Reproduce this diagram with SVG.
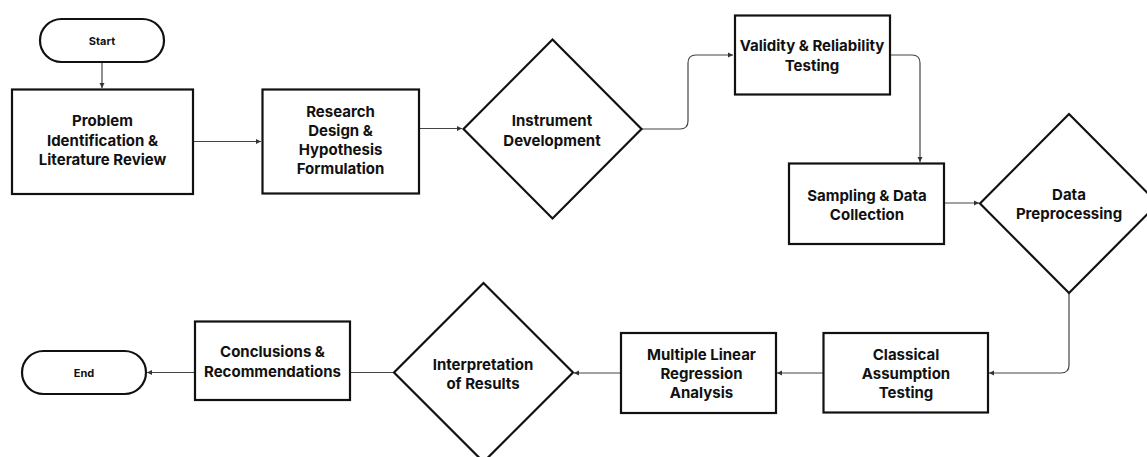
<svg xmlns="http://www.w3.org/2000/svg" width="1147" height="457" viewBox="0 0 1147 457">
<defs>
<marker id="ah" markerWidth="6" markerHeight="6" refX="5" refY="3" orient="auto" markerUnits="userSpaceOnUse">
<path d="M0,0.5 L5,3 L0,5.5 Z" fill="#333"/>
</marker>
</defs>
<style>
.n{fill:#fff;stroke:#111;stroke-width:2.2}
.t{font-family:Inter,"Noto Sans",sans-serif;font-weight:700;font-size:15px;fill:#111;text-anchor:middle}
.s{font-size:11px}
.c{fill:none;stroke:#444;stroke-width:1.2;marker-end:url(#ah)}
.c0{fill:none;stroke:#444;stroke-width:1.2}
</style>
<rect width="1147" height="457" fill="#fff"/>
<g id="connectors">
<path class="c" d="M102,62 V88"/>
<path class="c" d="M193,141.5 H261"/>
<path class="c" d="M419,128.5 H462"/>
<path class="c" d="M642,129 H680 Q688,129 688,121 V63 Q688,55 696,55 H733"/>
<path class="c" d="M890,55 H912 Q920,55 920,63 V162"/>
<path class="c" d="M944,203 H979"/>
<path class="c" d="M1069,293 V365 Q1069,373 1061,373 H989"/>
<path class="c" d="M823,373 H777"/>
<path class="c" d="M621,373 H574"/>
<path class="c0" d="M394,372.5 H350"/>
<path class="c" d="M195,372.5 H147"/>
</g>
<g id="start">
<rect class="n" x="40" y="19" width="124" height="43" rx="21.5"/>
<text class="t s" x="102" y="44.5">Start</text>
</g>
<g id="problem">
<rect class="n" x="12" y="89.5" width="181" height="104.5"/>
<text class="t" x="102.5" y="126">Problem</text>
<text class="t" x="102.5" y="145.5">Identification &amp;</text>
<text class="t" x="102.5" y="165">Literature Review</text>
</g>
<g id="research">
<rect class="n" x="262.5" y="89.5" width="156.5" height="104"/>
<text class="t" x="340.5" y="117">Research</text>
<text class="t" x="340.5" y="136">Design &amp;</text>
<text class="t" x="340.5" y="155">Hypothesis</text>
<text class="t" x="340.5" y="174">Formulation</text>
</g>
<g id="instrument">
<polygon class="n" points="552.5,39.5 641.5,129 552.5,218.5 463.5,129"/>
<text class="t" x="552" y="125.5">Instrument</text>
<text class="t" x="552" y="145.5">Development</text>
</g>
<g id="validity">
<rect class="n" x="735" y="15.5" width="155" height="79"/>
<text class="t" x="812" y="51">Validity &amp; Reliability</text>
<text class="t" x="812" y="70.5">Testing</text>
</g>
<g id="sampling">
<rect class="n" x="789" y="163.5" width="155" height="80.5"/>
<text class="t" x="867" y="200.5">Sampling &amp; Data</text>
<text class="t" x="867" y="219.5">Collection</text>
</g>
<g id="preprocessing">
<polygon class="n" points="1069,114 1158,203.5 1069,293 980,203.5"/>
<text class="t" x="1069" y="199.5">Data</text>
<text class="t" x="1069" y="218.5">Preprocessing</text>
</g>
<g id="classical">
<rect class="n" x="823.5" y="333" width="164.5" height="79.5"/>
<text class="t" x="906" y="359.5">Classical</text>
<text class="t" x="906" y="378.5">Assumption</text>
<text class="t" x="906" y="398">Testing</text>
</g>
<g id="regression">
<rect class="n" x="621" y="333" width="155" height="80"/>
<text class="t" x="701.5" y="359.5">Multiple Linear</text>
<text class="t" x="701.5" y="378.5">Regression</text>
<text class="t" x="701.5" y="398">Analysis</text>
</g>
<g id="interpretation">
<polygon class="n" points="483.5,283 573,372.5 483.5,462 394,372.5"/>
<text class="t" x="483" y="369.5">Interpretation</text>
<text class="t" x="483" y="388.5">of Results</text>
</g>
<g id="conclusions">
<rect class="n" x="195" y="321.5" width="155" height="78.5"/>
<text class="t" x="272.5" y="357">Conclusions &amp;</text>
<text class="t" x="272.5" y="376.5">Recommendations</text>
</g>
<g id="end">
<rect class="n" x="22" y="351" width="124" height="43" rx="21.5"/>
<text class="t s" x="84" y="376.5">End</text>
</g>
</svg>
